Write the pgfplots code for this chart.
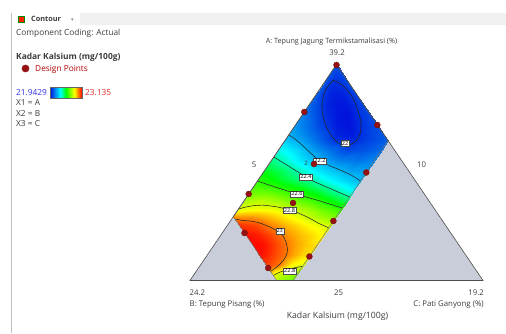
\documentclass[border=0pt]{standalone}
\usepackage{fontspec}
\setmainfont{Open Sans}
\newfontfamily\symfont{DejaVu Sans}
\usepackage{pgfplots}
\pgfplotsset{compat=1.18}

\definecolor{infeas}{RGB}{201,205,217}
\definecolor{dpred}{RGB}{150,18,18}
\definecolor{txt}{RGB}{60,60,60}
\definecolor{lowblue}{RGB}{50,50,235}
\definecolor{highred}{RGB}{225,40,40}
\definecolor{barbg}{RGB}{240,240,240}

\pgfplotsset{cline/.style={black!85, line width=0.55pt, smooth, tension=0.45}}
\tikzset{
  clab/.style={draw=black!70, fill=white, inner sep=0.8pt, font=\fontsize{5.6}{5.6}\selectfont},
  tk/.style={font=\fontsize{7.8}{8}\selectfont, text=txt, inner sep=0pt},
  side/.style={anchor=base west, inner sep=0pt, font=\fontsize{8.3}{9}\selectfont, text=txt},
}

\begin{document}
\begin{tikzpicture}
\begin{axis}[
  view={0}{90},
  width=506pt, height=333pt, scale only axis,
  xmin=0, xmax=506, ymin=0, ymax=333, zmin=-1, zmax=1,
  y dir=reverse,
  hide axis, clip=false,
  colormap={dx}{rgb255(0cm)=(0,15,220) rgb255(16cm)=(0,255,255) rgb255(25cm)=(0,255,0) rgb255(38cm)=(255,255,0) rgb255(50cm)=(255,0,0)},
  point meta min=21.9429, point meta max=23.135,
]
% page background and toolbar strip
\addplot3[fill=white, draw=none] coordinates {(0,0,0) (506,0,0) (506,333,0) (0,333,0)};
\addplot3[fill=barbg, draw=none] coordinates {(80,13,0) (506,13,0) (506,25,0) (80,25,0)};
\addplot3[draw=black!25, line width=0.6pt] coordinates {(11,13,0) (11,333,0)};

% full simplex (infeasible part shown in gray)
\addplot3[fill=infeas, draw=none] coordinates {(336.5,64.5,0) (190,280.5,0) (483,280.5,0)};

% response surface over the constrained region (x, y in plot units, v = Kadar Kalsium)
\addplot3[surf, shader=interp, mesh/ordering=x varies, mesh/cols=7, mesh/rows=24,
  point meta=\thisrow{v}] table[x=x, y=y, z expr=0] {
x y v
336.5 64.5 22.05
336.5 64.5 22.05
336.5 64.5 22.05
336.5 64.5 22.05
336.5 64.5 22.05
336.5 64.5 22.05
336.5 64.5 22.05

329.4 75 22.05
331.8 75 22.035
334.1 75 22.02
336.5 75 22.015
338.9 75 22.02
341.2 75 22.03
343.6 75 22.045

322.6 85 22.055
327.2 85 22.012
331.9 85 21.99
336.5 85 21.985
341.1 85 21.995
345.8 85 22.012
350.4 85 22.04

315.8 95 22.065
322.7 95 22.008
329.6 95 21.975
336.5 95 21.965
343.4 95 21.97
350.3 95 21.998
357.2 95 22.03

309.0 105 22.09
318.2 105 22.03
327.3 105 21.975
336.5 105 21.955
345.7 105 21.955
354.8 105 21.99
364.0 105 22.035

302.3 115 22.12
313.7 115 22.06
325.1 115 21.995
336.5 115 21.955
347.9 115 21.945
359.3 115 21.995
370.7 115 22.04

295.5 125 22.155
309.2 125 22.09
322.8 125 22.015
336.5 125 21.96
350.2 125 21.95
363.8 125 22.005
377.5 125 22.045

288.7 135 22.2
304.6 135 22.13
320.6 135 22.06
336.5 135 21.975
352.4 135 21.96
368.4 135 22.02
384.3 135 22.06

285.0 140.5 22.24
302.2 140.5 22.17
319.3 140.5 22.08
336.5 140.5 21.995
353.7 140.5 21.985
370.8 140.5 22.03
388.0 140.5 22.07

278.5 150 22.34
295.7 150 22.27
312.9 150 22.17
330.1 150 22.1
347.2 150 22.03
364.4 150 22.05
381.6 150 22.09

271.7 160 22.43
288.9 160 22.35
306.0 160 22.26
323.2 160 22.18
340.4 160 22.12
357.6 160 22.1
374.8 160 22.13

264.9 170 22.51
282.1 170 22.46
299.3 170 22.38
316.5 170 22.29
333.6 170 22.22
350.8 170 22.17
368.0 170 22.16

258.2 180 22.59
275.4 180 22.53
292.5 180 22.47
309.7 180 22.41
326.9 180 22.33
344.0 180 22.26
361.2 180 22.2

251.4 190 22.66
268.6 190 22.64
285.7 190 22.595
302.9 190 22.54
320.1 190 22.47
337.2 190 22.39
354.4 190 22.31

244.6 200 22.74
261.8 200 22.76
279.0 200 22.72
296.1 200 22.665
313.3 200 22.61
330.5 200 22.53
347.7 200 22.45

237.8 210 22.82
255.0 210 22.85
272.2 210 22.84
289.3 210 22.8
306.5 210 22.74
323.7 210 22.67
340.9 210 22.61

233.3 216.6 22.97
250.5 216.6 22.97
267.7 216.6 22.93
284.8 216.6 22.87
302.0 216.6 22.81
319.2 216.6 22.74
336.4 216.6 22.69

239.1 225 23.08
254.4 225 23.06
269.6 225 22.99
284.9 225 22.93
300.2 225 22.88
315.4 225 22.83
330.7 225 22.79

245.9 235 23.12
258.9 235 23.1
271.9 235 23.05
284.9 235 22.98
297.9 235 22.93
310.9 235 22.89
323.9 235 22.84

252.7 245 23.13
263.4 245 23.12
274.2 245 23.07
284.9 245 23.01
295.6 245 22.95
306.4 245 22.91
317.1 245 22.88

259.4 255 23.12
267.9 255 23.09
276.4 255 23.05
284.9 255 23.005
293.3 255 22.95
301.8 255 22.9
310.3 255 22.87

266.2 265 23.06
272.4 265 23.04
278.7 265 23.0
284.9 265 22.92
291.1 265 22.86
297.4 265 22.83
303.6 265 22.81

272.3 274 22.86
276.5 274 22.8
280.7 274 22.77
284.9 274 22.75
289.0 274 22.74
293.2 274 22.72
297.4 274 22.71

276.7 280.5 22.76
279.4 280.5 22.74
282.2 280.5 22.72
284.9 280.5 22.7
287.6 280.5 22.69
290.4 280.5 22.68
293.1 280.5 22.67
};

% contour lines
\addplot3[cline] coordinates {(333,80,0) (341,84,0) (348,91,0) (354,100,0) (358,111,0) (361,123,0) (360,134,0) (356,141,0) (348,145.5,0) (340,144,0) (333,138,0) (327,128,0) (323,116,0) (322,104,0) (325,91,0) (333,80,0)};
\addplot3[cline] coordinates {(288.7,135,0) (295,139,0) (302,145,0) (310,152.5,0) (318,159.5,0) (328,165,0) (340,170,0) (351,175,0) (360.5,181,0)};
\addplot3[cline] coordinates {(273.8,157,0) (282,162,0) (290,167,0) (298,172,0) (306,177,0) (314,181.5,0) (322,185,0) (330,188.5,0) (338,192,0) (344,194.5,0) (349.7,197,0)};
\addplot3[cline] coordinates {(257.5,181,0) (266,184,0) (275,187,0) (286,190.5,0) (297,194,0) (308,197.5,0) (320,201,0) (331,204.5,0) (342.2,208,0)};
\addplot3[cline] coordinates {(238.5,209,0) (246,207,0) (255,205.5,0) (263,205.2,0) (271,206,0) (280,207.5,0) (289,210,0) (297,212.5,0) (305,216,0) (312,219.5,0) (318,223,0) (323.5,225.5,0) (328.7,228,0)};
\addplot3[cline] coordinates {(235,219,0) (243,220.5,0) (250,221,0) (258,222.5,0) (265,225,0) (272,228,0) (278,231.5,0) (283,236,0) (286,242,0) (287.5,250,0) (286,256,0) (283,261,0) (278,266,0) (274,269,0) (270.3,271.5,0)};
\addplot3[cline] coordinates {(273.3,275.5,0) (278,273,0) (283,271,0) (290,269,0) (296,267.5,0) (302.7,266.3,0)};

% constrained region outline and simplex edges
\addplot3[draw=black!55, line width=0.5pt] coordinates {(336.5,64.5,0) (233.4,216.6,0) (276.7,280.5,0) (293.1,280.5,0) (388,140.5,0) (336.5,64.5,0)};
\addplot3[draw=black!70, line width=0.6pt] coordinates {(336.5,64.5,0) (190,280.5,0) (483,280.5,0) (336.5,64.5,0)};

% contour value labels
\node[clab] at (axis cs:345,143,0) {22};
\node[clab] at (axis cs:320,161,0) {22.2};
\node[font=\fontsize{6}{6}\selectfont, text=txt] at (axis cs:306,163,0) {2};
\node[clab] at (axis cs:306,177,0) {22.4};
\node[clab] at (axis cs:297,194,0) {22.6};
\node[clab] at (axis cs:289.5,210.5,0) {22.8};
\node[clab] at (axis cs:279.7,231,0) {23};
\node[clab] at (axis cs:289.7,271,0) {22.8};

% design points
\addplot3[only marks, mark=*, mark size=3pt, mark options={fill=dpred, draw=dpred!70!black, line width=0.3pt}] coordinates {
(336.5,65,0) (304.3,112,0) (377.3,125,0) (314,164,0) (366.3,172.5,0) (248.7,194,0)
(293,203,0) (333.4,221,0) (244.5,233,0) (309.4,256.5,0) (268.2,268,0)};

% axis texts of the simplex
\node[tk, anchor=base, font=\fontsize{7.2}{8}\selectfont] at (axis cs:331.5,43.5,0) {A: Tepung Jagung Termikstamalisasi (\%)};
\node[tk, anchor=base] at (axis cs:337,55.5,0) {39.2};
\node[tk, anchor=base] at (axis cs:254,167.5,0) {5};
\node[tk, anchor=base] at (axis cs:421.5,167.5,0) {10};
\node[tk, anchor=base west] at (axis cs:189.5,295.5,0) {24.2};
\node[tk, anchor=base west] at (axis cs:189.5,306.5,0) {B: Tepung Pisang (\%)};
\node[tk, anchor=base] at (axis cs:338.5,295.5,0) {25};
\node[tk, anchor=base east] at (axis cs:484,295.5,0) {19.2};
\node[tk, anchor=base east] at (axis cs:484,306.5,0) {C: Pati Ganyong (\%)};
\node[tk, anchor=base, font=\fontsize{8.7}{9}\selectfont] at (axis cs:337.5,319,0) {Kadar Kalsium (mg/100g)};

% side panel
\node[draw=green!55!black, fill=red!75!orange, line width=0.9pt, minimum size=6.5pt, inner sep=0pt] at (axis cs:21.5,19.5,0) {};
\node[anchor=base west, inner sep=0pt, font=\bfseries\fontsize{7.3}{8}\selectfont, text=txt] at (axis cs:31,22,0) {Contour};
\node[anchor=base west, inner sep=0pt, font=\symfont\fontsize{5}{6}\selectfont, text=black!50] at (axis cs:71,21.5,0) {▾};
\node[side] at (axis cs:16,36,0) {Component Coding: Actual};
\node[side, font=\bfseries\fontsize{8.4}{9}\selectfont] at (axis cs:16,60,0) {Kadar Kalsium (mg/100g)};
\addplot3[only marks, mark=*, mark size=3.6pt, mark options={fill=dpred, draw=dpred}] coordinates {(25.5,68.5,0)};
\node[side, text=red!70!black] at (axis cs:35,71.5,0) {Design Points};
\node[side, text=lowblue] at (axis cs:16,96,0) {21.9429};
\addplot3[surf, shader=interp, mesh/ordering=x varies, mesh/cols=2, mesh/rows=2,
  point meta=\thisrow{v}] table[x=x, y=y, z expr=0] {
x y v
50 87 21.9429
82 87 23.135

50 98 21.9429
82 98 23.135
};
\addplot3[draw=black!60, line width=0.4pt] coordinates {(50,87,0) (82,87,0) (82,98,0) (50,98,0) (50,87,0)};
\node[side, text=highred] at (axis cs:85,96,0) {23.135};
\node[side] at (axis cs:16,106,0) {X1 = A};
\node[side] at (axis cs:16,116.5,0) {X2 = B};
\node[side] at (axis cs:16,127,0) {X3 = C};
\end{axis}
\end{tikzpicture}
\end{document}
